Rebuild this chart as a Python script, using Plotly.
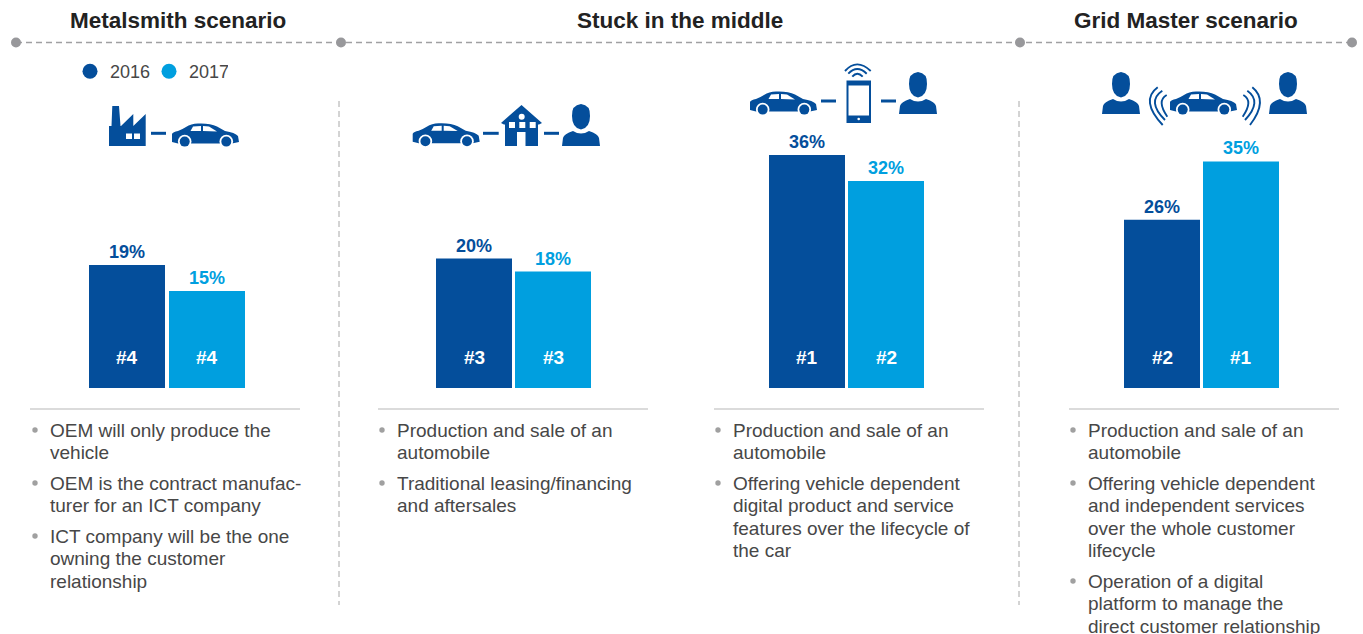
import plotly.graph_objects as go

# ---------- data ----------
YEARS = ["2016", "2017"]
SCENARIOS = ["Metalsmith scenario", "Stuck in the middle", "Grid Master scenario"]
SHARE_2016 = [19, 20, 36, 26]
SHARE_2017 = [15, 18, 32, 35]
RANK_2016 = ["#4", "#3", "#1", "#2"]
RANK_2017 = ["#4", "#3", "#2", "#1"]
BULLETS = [
    [["OEM will only produce the", "vehicle"],
     ["OEM is the contract manufac-", "turer for an ICT company"],
     ["ICT company will be the one", "owning the customer", "relationship"]],
    [["Production and sale of an", "automobile"],
     ["Traditional leasing/financing", "and aftersales"]],
    [["Production and sale of an", "automobile"],
     ["Offering vehicle dependent", "digital product and service", "features over the lifecycle of", "the car"]],
    [["Production and sale of an", "automobile"],
     ["Offering vehicle dependent", "and independent services", "over the whole customer", "lifecycle"],
     ["Operation of a digital", "platform to manage the", "direct customer relationship"]],
]

# ---------- style / layout ----------
W, H = 1363, 634
DARK, LIGHT = "#044E9B", "#009FDF"
TXT, HEAD = "#474747", "#222222"
GREY = "#98989B"
FONT = "Liberation Sans"
STEP = [80, 79, 79, 79]
CENTER_16 = [127, 474, 807, 1162]
BAR_PX = 76
BASE_PX, PX_PER_UNIT, Y_MAX = 388, 6.472, 45
RULE_X = [(30, 300), (378, 648), (714, 984), (1069, 1339)]
TEXT_X = [50, 397, 733, 1088]

fig = go.Figure()
shapes, annos = [], []
PX = dict(xref="x5", yref="y5")


def rect(x0, y0, x1, y1, color=DARK):
    shapes.append(dict(type="rect", x0=x0, y0=y0, x1=x1, y1=y1, fillcolor=color, line_width=0, **PX))


def circ(cx, cy, r, color=DARK):
    shapes.append(dict(type="circle", x0=cx - r, y0=cy - r, x1=cx + r, y1=cy + r, fillcolor=color, line_width=0, **PX))


def poly(pts, ox, oy, color=DARK):
    d = "M " + " L ".join(f"{ox + a:.1f},{oy + b:.1f}" for a, b in pts) + " Z"
    shapes.append(dict(type="path", path=d, fillcolor=color, line_width=0, **PX))


def raw(d, fill=DARK, lw=0, lc=DARK):
    s = dict(type="path", path=d, line=dict(width=lw, color=lc), **PX)
    if fill:
        s["fillcolor"] = fill
    shapes.append(s)


def car(x, y):
    d = (f"M {x},{y+19} L {x},{y+11} Q {x+1},{y+9} {x+6},{y+8} Q {x+10},{y+6.5} {x+14},{y+4} "
         f"Q {x+19},{y+0.8} {x+26},{y+0.5} Q {x+38},{y} {x+45},{y+3.5} L {x+53},{y+8} "
         f"Q {x+63},{y+9.5} {x+66},{y+13} L {x+67},{y+19} L {x+60},{y+20.5} L {x+6},{y+20.5} Z")
    raw(d)
    poly([(18.5, 8), (21, 3.6), (29, 3), (29, 8)], x, y, "white")
    poly([(31, 3), (37, 3.6), (45, 8.4), (31, 8)], x, y, "white")
    for wx in (12.7, 54.3):
        circ(x + wx, y + 18.6, 6.8, "white")
        circ(x + wx, y + 18.6, 5)


def person(x, y):
    raw(f"M {x},{y+42} L {x+1},{y+34} Q {x+2},{y+30} {x+11},{y+27} Q {x+19},{y+32} {x+27},{y+27} "
        f"Q {x+36},{y+30} {x+37},{y+34} L {x+38},{y+42} Z")
    raw(f"M {x+10},{y+12} Q {x+9.5},{y+1} {x+19},{y} Q {x+28.5},{y+1} {x+28},{y+12} "
        f"Q {x+28},{y+24} {x+19},{y+25.5} Q {x+10},{y+24} {x+10},{y+12} Z")


def dash(x0, x1, y):
    rect(x0, y - 1.5, x1, y + 1.5)


def arc(ox, oy, a, m, b, w=1.9, div=3):
    ax, ay = ox + a[0] / div, oy + a[1] / div
    mx, my = ox + m[0] / div, oy + m[1] / div
    bx, by = ox + b[0] / div, oy + b[1] / div
    cx, cy = 2 * mx - (ax + bx) / 2, 2 * my - (ay + by) / 2
    raw(f"M {ax:.1f},{ay:.1f} Q {cx:.1f},{cy:.1f} {bx:.1f},{by:.1f}", fill=None, lw=w)


def text(x, y, s, size=19, color=TXT, bold=False, anchor="left"):
    annos.append(dict(x=x, y=y, text=f"<b>{s}</b>" if bold else s, showarrow=False, xanchor=anchor,
                      yanchor="middle", font=dict(family=FONT, size=size, color=color), xref="x5", yref="y5"))


# ---------- bars ----------
for i in range(4):
    ax = "" if i == 0 else str(i + 1)
    for j, (vals, ranks, col) in enumerate([(SHARE_2016, RANK_2016, DARK), (SHARE_2017, RANK_2017, LIGHT)]):
        fig.add_trace(go.Bar(
            x=[YEARS[j]], y=[vals[i]], width=BAR_PX / STEP[i], name=YEARS[j], showlegend=False,
            marker=dict(color=col, line_width=0), text=[f"{vals[i]}%"], textposition="outside",
            cliponaxis=False, textangle=0, hoverinfo="x+y",
            textfont=dict(family=FONT, size=18, color=col, weight="bold"),
            xaxis="x" + ax, yaxis="y"))
        annos.append(dict(x=j, y=0, text=f"<b>{ranks[i]}</b>", showarrow=False, yanchor="middle", yshift=31,
                          font=dict(family=FONT, size=19, color="white"), xref="x" + ax, yref="y"))
    left = CENTER_16[i] - STEP[i] / 2
    dom = [left / W, (left + 2 * STEP[i]) / W]
    fig.update_layout({f"xaxis{ax}": dict(domain=dom, type="category", categoryorder="array", categoryarray=YEARS,
                                          range=[-0.5, 1.5], visible=False, fixedrange=True, anchor="y")})

# legend entries, carried by empty traces on the pixel axis (round glyphs)
for name, col in zip(YEARS, [DARK, LIGHT]):
    fig.add_trace(go.Scatter(x=[None], y=[None], mode="markers", name=name, xaxis="x5", yaxis="y5",
                             marker=dict(color=col, size=15, symbol="circle")))

# ---------- furniture ----------
shapes.append(dict(type="line", x0=16, x1=1352, y0=42.5, y1=42.5, line=dict(color="#A0A0A2", width=1.3, dash="6px,4px"), **PX))
for cx in (16, 341, 1020, 1352):
    circ(cx, 42.5, 5, GREY)
for vx in (339, 1019):
    shapes.append(dict(type="line", x0=vx, x1=vx, y0=101, y1=605, line=dict(color="#A8A8A8", width=1, dash="6px,4px"), **PX))
for a, b in RULE_X:
    shapes.append(dict(type="line", x0=a, x1=b, y0=409, y1=409, line=dict(color="#B8B8B8", width=1.2), **PX))

for s, cx in zip(SCENARIOS, (178, 680, 1186)):
    text(cx, 20, s, size=22.5, color=HEAD, bold=True, anchor="center")

for i, bullets in enumerate(BULLETS):
    y = 430
    for b in bullets:
        circ(TEXT_X[i] - 15, y, 2.7, "#A0A0A0")
        for ln in b:
            text(TEXT_X[i] - 2, y, ln)
            y += 22.5
        y += 8

# ---------- icons ----------
# factory + car
poly([(3.3, 0), (10, 0), (11.5, 20), (12, 20), (24.3, 8), (24.3, 20), (36.7, 8), (36.7, 40), (0, 40), (0, 20), (2.5, 20)], 109, 106)
for wx in (17, 25):
    rect(109 + wx, 133.5, 109 + wx + 6, 139, "white")
dash(151, 166, 133.3)
car(172, 123)
# car + house + person
car(412.7, 122.7)
dash(483, 498.7, 133.3)
poly([(20.5, 0), (41, 18), (38, 19.5), (37, 19.5), (37, 41), (4, 41), (4, 19.5), (3, 19.5), (0, 18)], 501, 105)
for wx in (8, 18.3, 28.7):
    rect(501 + wx, 122, 501 + wx + 6, 128, "white")
rect(517, 132, 525.5, 146, "white")
circ(521.7, 116.7, 3, "white")
dash(544, 559, 133.3)
person(562, 104)
# car + phone + person
car(750, 91)
dash(821, 836, 101)
shapes.append(dict(type="rect", x0=847.5, x1=870, y0=81.5, y1=122, fillcolor="white", line=dict(color=DARK, width=2), **PX))
rect(847.5, 81.5, 870, 85.5)
rect(847.5, 115.5, 870, 122)
circ(858.7, 119, 1.3, "white")
arc(740, 55, (315, 48), (352, 28), (392, 48))
arc(740, 55, (325, 56), (352, 42), (380, 56))
arc(740, 55, (337, 65), (352, 56), (368, 65))
dash(881, 896, 101)
person(899, 72)
# person + car + person
person(1102, 72)
car(1170, 91)
person(1269, 72)
for a, m, b in [((203, 82), (180, 130), (218, 195)), ((217, 92), (195, 130), (225, 180)), ((230, 105), (215, 130), (232, 170)),
                ((487, 82), (510, 130), (480, 195)), ((472, 92), (493, 130), (465, 180)), ((460, 105), (475, 130), (458, 170))]:
    arc(1090, 60, a, m, b)

y_top = BASE_PX - Y_MAX * PX_PER_UNIT
fig.update_layout(
    width=W, height=H, margin=dict(l=0, r=0, t=0, b=0, pad=0), autosize=False,
    paper_bgcolor="white", plot_bgcolor="rgba(0,0,0,0)", barmode="overlay", shapes=shapes, annotations=annos,
    font=dict(family=FONT, color=TXT),
    yaxis=dict(domain=[(H - BASE_PX) / H, (H - y_top) / H], range=[0, Y_MAX], visible=False, fixedrange=True, anchor="x"),
    xaxis5=dict(domain=[0, 1], range=[0, W], visible=False, fixedrange=True, anchor="y5"),
    yaxis5=dict(domain=[0, 1], range=[H, 0], visible=False, fixedrange=True, anchor="x5"),
    legend=dict(orientation="h", x=70 / W, y=1 - 53 / H, xanchor="left", yanchor="top", entrywidth=34, entrywidthmode="pixels",
                bgcolor="rgba(0,0,0,0)", font=dict(family=FONT, size=18, color=TXT), itemclick=False, itemdoubleclick=False),
    hovermode="closest",
)
fig.write_html("out.html", config={"displayModeBar": False},
               post_script="document.body.style.margin='0';document.body.style.overflow='hidden';")
